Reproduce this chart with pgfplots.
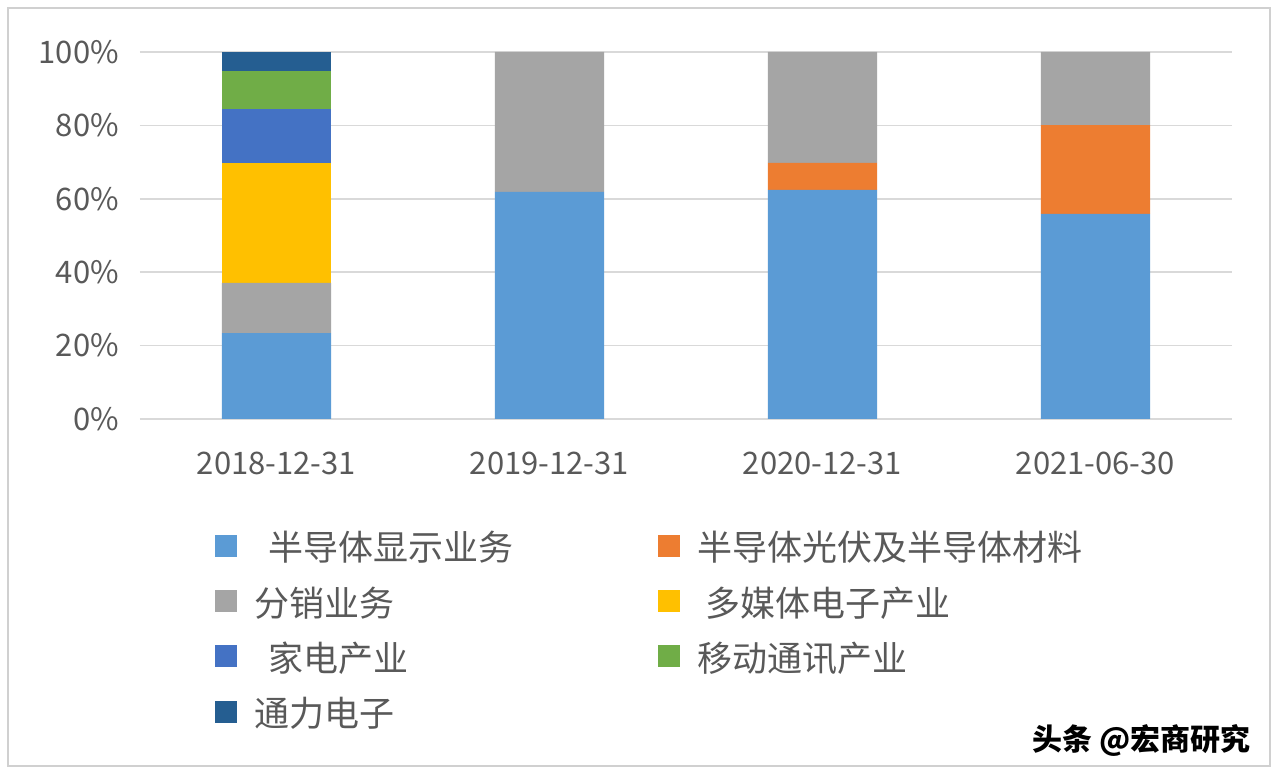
\documentclass[border=0pt]{standalone}
\usepackage{pgfplots}
\pgfplotsset{compat=1.18}
\usepackage{fontspec}
\setmainfont{Noto Sans CJK SC}

\definecolor{cDisp}{HTML}{5B9BD5}
\definecolor{cPV}{HTML}{ED7D31}
\definecolor{cDist}{HTML}{A5A5A5}
\definecolor{cMedia}{HTML}{FFC000}
\definecolor{cHome}{HTML}{4472C4}
\definecolor{cMobile}{HTML}{70AD47}
\definecolor{cTonly}{HTML}{255E91}
\definecolor{gridc}{HTML}{D9D9D9}
\definecolor{tickc}{HTML}{595959}
\definecolor{framec}{HTML}{D0D0D0}

\begin{document}
\begin{tikzpicture}[x=0.5pt,y=0.5pt]
\useasboundingbox (0,0) rectangle (1280,774);
\fill[white] (0,0) rectangle (1280,774);
\draw[framec, line width=0.8pt] (8,8) rectangle (1270,766);

\begin{axis}[
  at={(70pt,177.5pt)}, anchor=south west,
  scale only axis,
  width=546pt, height=183.5pt,
  ybar stacked, bar width=0.4,
  xmin=-0.5, xmax=3.5,
  ymin=0, ymax=100,
  xtick=data,
  xticklabels={2018-12-31,2019-12-31,2020-12-31,2021-06-30},
  ytick={0,20,40,60,80,100},
  yticklabel={\pgfmathprintnumber{\tick}\%},
  /pgf/number format/assume math mode=true,
  ymajorgrids=true,
  grid style={gridc, line width=0.75pt},
  axis line style={draw=none},
  major tick length=0pt,
  tick label style={font=\fontsize{15.5}{18}\selectfont, text=tickc},
  yticklabel style={xshift=-7pt},
  xticklabel style={yshift=-13pt},
  legend columns=2,
  legend style={
    at={(rel axis cs:0.0687,-0.316)}, anchor=north west,
    draw=none, fill=none, inner sep=0pt, outer sep=0pt,
    row sep=11.6pt,
    font=\fontsize{17.5}{20}\selectfont, text=tickc,
    nodes={inner xsep=0pt, inner ysep=0pt, text width=202pt, align=left,
           text height=12pt, text depth=3pt},
    /tikz/every odd column/.style={column sep=8.5pt},
  },
  legend image code/.code={\fill[#1] (0pt,-2.5pt) rectangle (11pt,8.5pt);},
]
% bottom to top
\addplot[fill=cDisp, draw=none] coordinates {(0,23.4) (1,61.9) (2,62.4) (3,55.9)};
\addplot[fill=cPV, draw=none] coordinates {(0,0) (1,0) (2,7.4) (3,24.2)};
\addplot[fill=cDist, draw=none] coordinates {(0,13.7) (1,38.1) (2,30.2) (3,19.9)};
\addplot[fill=cMedia, draw=none] coordinates {(0,32.7) (1,0) (2,0) (3,0)};
\addplot[fill=cHome, draw=none] coordinates {(0,14.7) (1,0) (2,0) (3,0)};
\addplot[fill=cMobile, draw=none] coordinates {(0,10.3) (1,0) (2,0) (3,0)};
\addplot[fill=cTonly, draw=none] coordinates {(0,5.2) (1,0) (2,0) (3,0)};
\legend{\hspace*{7pt}半导体显示业务, 半导体光伏及半导体材料, 分销业务, \hspace*{4pt}多媒体电子产业,
        \hspace*{7pt}家电产业, 移动通讯产业, 通力电子}
\end{axis}

\node[anchor=east, font=\bfseries\fontsize{15}{18}\selectfont, text=black] at (1258,34) {头条 @宏商研究};
\end{tikzpicture}
\end{document}
